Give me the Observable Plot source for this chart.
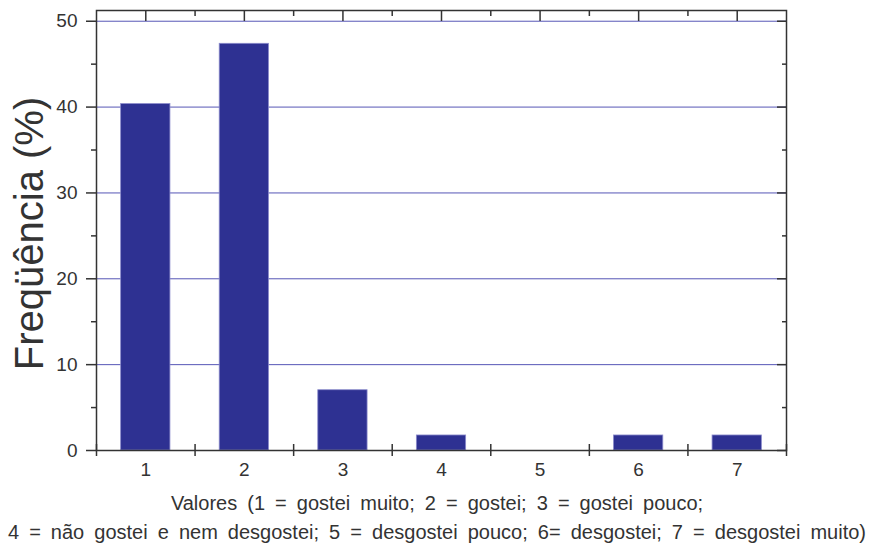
<!DOCTYPE html>
<html><head><meta charset="utf-8">
<script src="https://cdn.jsdelivr.net/npm/d3@7"></script>
<script src="https://cdn.jsdelivr.net/npm/@observablehq/plot@0.6"></script>
<style>
body{margin:0;background:#fff;font-family:"Liberation Sans",Arial,sans-serif;}
#caption{width:874px;text-align:center;color:#333;font-size:20px;word-spacing:4.5px;line-height:29px;margin-top:9px;}
#caption div{white-space:nowrap;}
</style></head><body>
<div id="chart"></div>
<div id="caption"></div>
<script>
const categories = [1, 2, 3, 4, 5, 6, 7];
const frequencies = [40.35, 47.37, 7.02, 1.75, 0, 1.75, 1.75];
const yMajorTicks = [0, 10, 20, 30, 40, 50];
const yMinorTicks = [5, 15, 25, 35, 45];
const gridValues = [10, 20, 30, 40, 50];
const xBoundaries = [0.5, 1.5, 2.5, 3.5, 4.5, 5.5, 6.5, 7.5];
const yTitle = ["Freqüência (%)"];
const captionLines = [
  "Valores (1 = gostei muito; 2 = gostei; 3 = gostei pouco;",
  "4 = não gostei e nem desgostei; 5 = desgostei pouco; 6= desgostei; 7 = desgostei muito)"
];

const data = categories.map((c, i) => ({cat: c, freq: frequencies[i]}));
const dark = "#333333";
const halfBar = 0.25;
const tickOpts = {stroke: dark, strokeWidth: 1.5, fill: "none", label: null};

const chart = Plot.plot({
  width: 874, height: 480,
  marginLeft: 96, marginRight: 88, marginTop: 10, marginBottom: 30,
  x: {type: "linear", domain: [0.5, 7.5]},
  y: {domain: [0, 51.25]},
  style: {fontFamily: "'Liberation Sans', Arial, sans-serif", fontSize: "19px", color: dark, background: "#fff"},
  marks: [
    Plot.gridY(gridValues, {stroke: "#5656b6", strokeOpacity: 1, strokeWidth: 1}),
    Plot.rectY(data, {x1: d => d.cat - halfBar, x2: d => d.cat + halfBar, y1: 0, y2: "freq", fill: "#2e3192", stroke: "#8a8acb", strokeWidth: 0.8}),
    Plot.frame({stroke: dark, strokeWidth: 1.5}),
    Plot.axisY(yMajorTicks, {anchor: "left", tickSize: 10, tickPadding: 9, stroke: dark, strokeWidth: 1.5, fill: dark, fontSize: 19, label: null}),
    Plot.axisY(yMinorTicks, {anchor: "left", tickSize: 5, ...tickOpts}),
    Plot.axisY(yMajorTicks, {anchor: "right", tickSize: -10, ...tickOpts}),
    Plot.axisY(yMinorTicks, {anchor: "right", tickSize: -5, ...tickOpts}),
    Plot.axisX(categories, {anchor: "top", tickSize: -10, ...tickOpts}),
    Plot.axisX(xBoundaries.slice(1, -1), {anchor: "top", tickSize: -5, ...tickOpts}),
    Plot.axisX(xBoundaries, {anchor: "bottom", tickSize: 6, ...tickOpts}),
    Plot.axisX(xBoundaries, {anchor: "bottom", tickSize: -6, ...tickOpts}),
    Plot.axisX(categories, {anchor: "bottom", tickSize: 0, tickPadding: 12, fill: dark, fontSize: 19, label: null}),
    Plot.text(yTitle, {frameAnchor: "left", text: d => d, rotate: -90, textAnchor: "middle", lineAnchor: "middle", dx: -66, dy: 3, fontSize: 40, fill: dark})
  ]
});
document.getElementById("chart").appendChild(chart);
const cap = document.getElementById("caption");
captionLines.forEach(t => { const d = document.createElement("div"); d.textContent = t; cap.appendChild(d); });
</script>
</body></html>
